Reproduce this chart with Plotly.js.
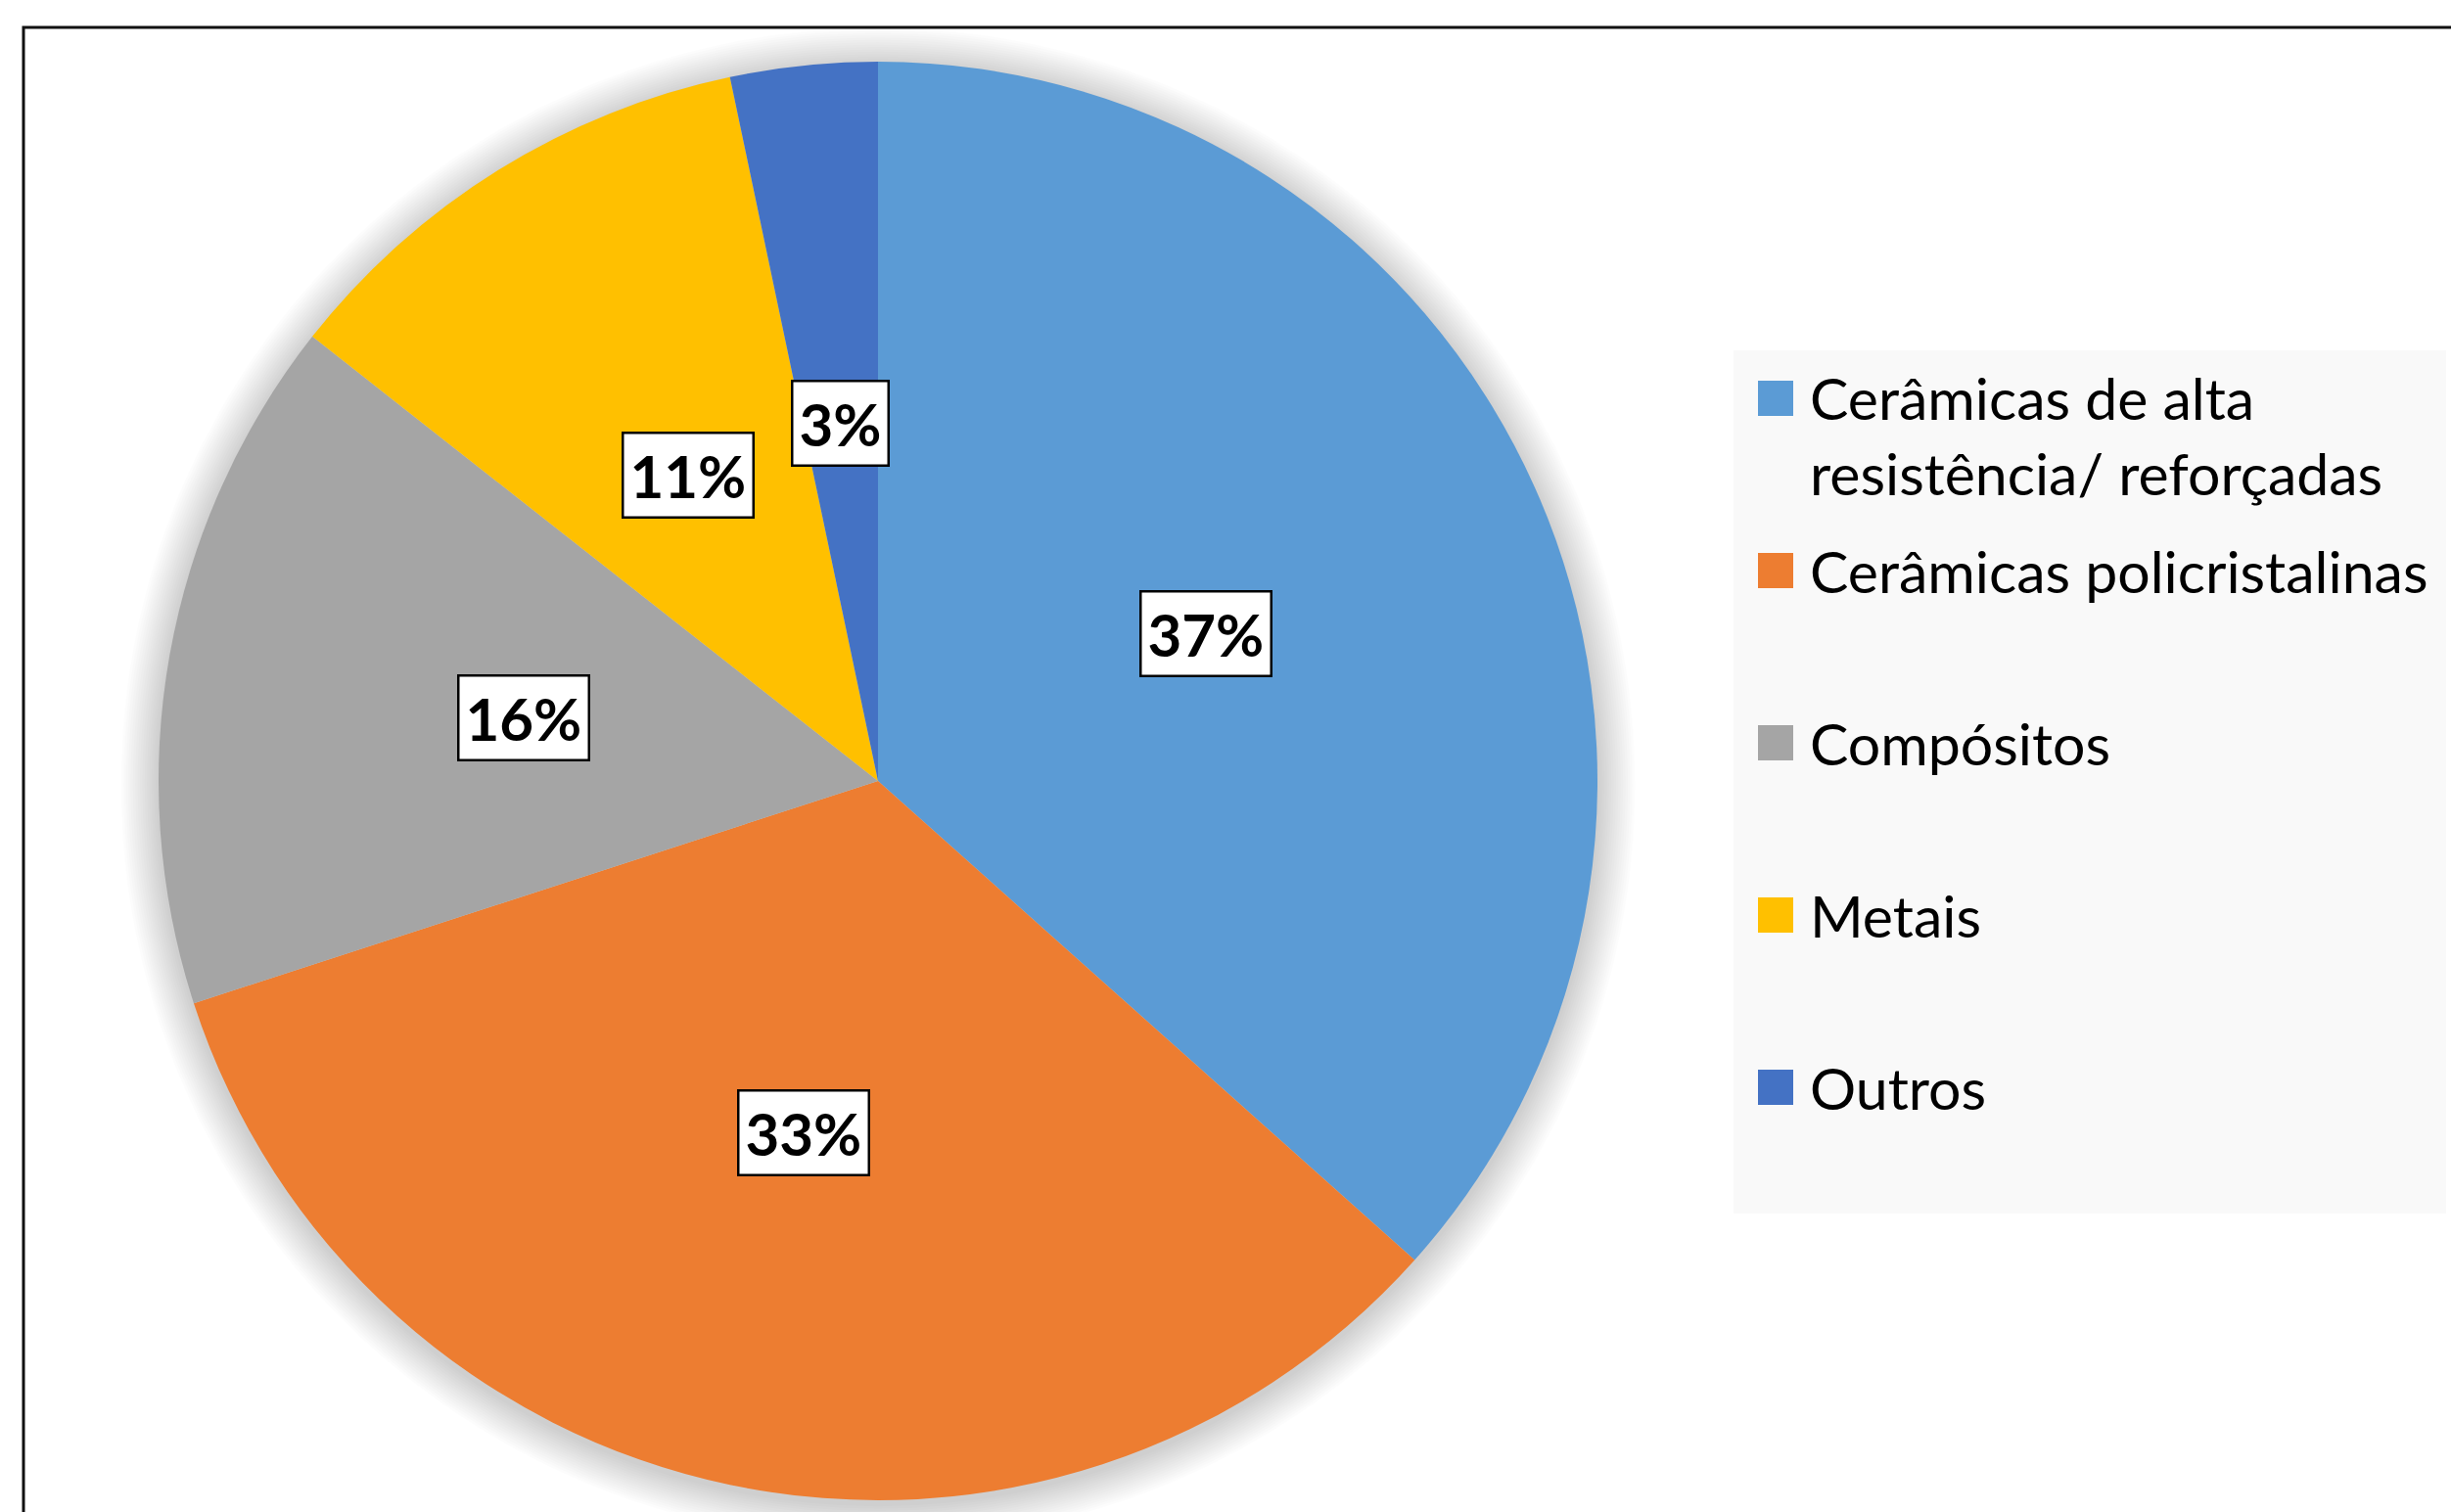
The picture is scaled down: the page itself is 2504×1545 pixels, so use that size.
<!DOCTYPE html>
<html><head><meta charset="utf-8">
<script src="https://cdn.plot.ly/plotly-3.0.1.min.js"></script>
<style>html,body{margin:0;padding:0;background:#fff;}</style>
</head><body><div id="chart" style="width:2504px;height:1545px;"></div>
<script>
// ---- data ----
const categories = ["Cerâmicas de alta<br>resistência/ reforçadas", "Cerâmicas policristalinas", "Compósitos", "Metais", "Outros"];
const shares = [36.6, 33.4, 15.6, 11.1, 3.3];
const sliceColors = ["#5B9BD5", "#ED7D31", "#A5A5A5", "#FFC000", "#4472C4"];

// ---- geometry / style ----
const W = 2504, H = 1545;
const CX = 897, CY = 798, R = 735;
const px = x => x / W, py = y => 1 - y / H;
const FONT = 'Lato, "Open Sans", sans-serif';

const total = shares.reduce((a, b) => a + b, 0);
const annotations = [], shapes = [];

// chart frame (cropped on right and bottom)
shapes.push({type: 'rect', xref: 'paper', yref: 'paper', x0: px(24), x1: px(W + 20), y0: py(H + 20), y1: py(28),
  line: {color: '#111', width: 3}, fillcolor: 'rgba(0,0,0,0)', layer: 'below'});

// soft shadow around the pie
for (let k = 16; k >= 1; k--) {
  const rr = R + k * 2.4;
  shapes.push({type: 'circle', xref: 'paper', yref: 'paper', xsizemode: 'pixel', ysizemode: 'pixel',
    xanchor: px(CX), yanchor: py(CY + 4), x0: -rr, x1: rr, y0: -rr, y1: rr,
    fillcolor: 'rgba(0,0,0,0.011)', line: {width: 0}, layer: 'below'});
}

// percentage labels in boxes at mid-angle, half radius
let cum = 0;
shares.forEach((v, i) => {
  const mid = (cum + v / 2) / total * 2 * Math.PI; cum += v;
  const x = CX + 0.5 * R * Math.sin(mid), y = CY - 0.5 * R * Math.cos(mid);
  annotations.push({xref: 'paper', yref: 'paper', x: px(x), y: py(y), xanchor: 'center', yanchor: 'middle',
    showarrow: false, text: '<b>' + Math.round(v / total * 100) + '%</b>',
    font: {family: FONT, size: 60, color: '#000'}, bgcolor: '#fff', bordercolor: '#000', borderwidth: 2.5, borderpad: 6});
});

// legend panel
shapes.push({type: 'rect', xref: 'paper', yref: 'paper', x0: px(1771), x1: px(2499), y0: py(1240), y1: py(358),
  fillcolor: '#F9F9F9', line: {width: 0}, layer: 'below'});
const LFS = 59, LH = LFS * 1.3;
categories.forEach((lab, i) => {
  const yc = 407 + 176 * i;
  const nLines = lab.split('<br>').length;
  shapes.push({type: 'rect', xref: 'paper', yref: 'paper', x0: px(1796), x1: px(1832), y0: py(yc + 18), y1: py(yc - 18),
    fillcolor: sliceColors[i], line: {width: 0}});
  annotations.push({xref: 'paper', yref: 'paper', x: px(1847), y: py(yc + (nLines - 1) * LH / 2),
    xanchor: 'left', yanchor: 'middle', align: 'left', showarrow: false, text: lab,
    font: {family: FONT, size: LFS, color: '#000'}});
});

const trace = {
  type: 'pie', labels: categories, values: shares, sort: false, direction: 'clockwise', rotation: 0,
  marker: {colors: sliceColors, line: {width: 0}}, textinfo: 'none', hoverinfo: 'label+percent',
  domain: {x: [px(CX - R), px(CX + R)], y: [py(CY + R), py(CY - R)]}, showlegend: false
};

const layout = {
  width: W, height: H, margin: {l: 0, r: 0, t: 0, b: 0},
  paper_bgcolor: '#fff', showlegend: false, shapes: shapes, annotations: annotations,
  font: {family: FONT}
};

Plotly.newPlot('chart', [trace], layout, {displayModeBar: false, staticPlot: true});
</script>
</body></html>
